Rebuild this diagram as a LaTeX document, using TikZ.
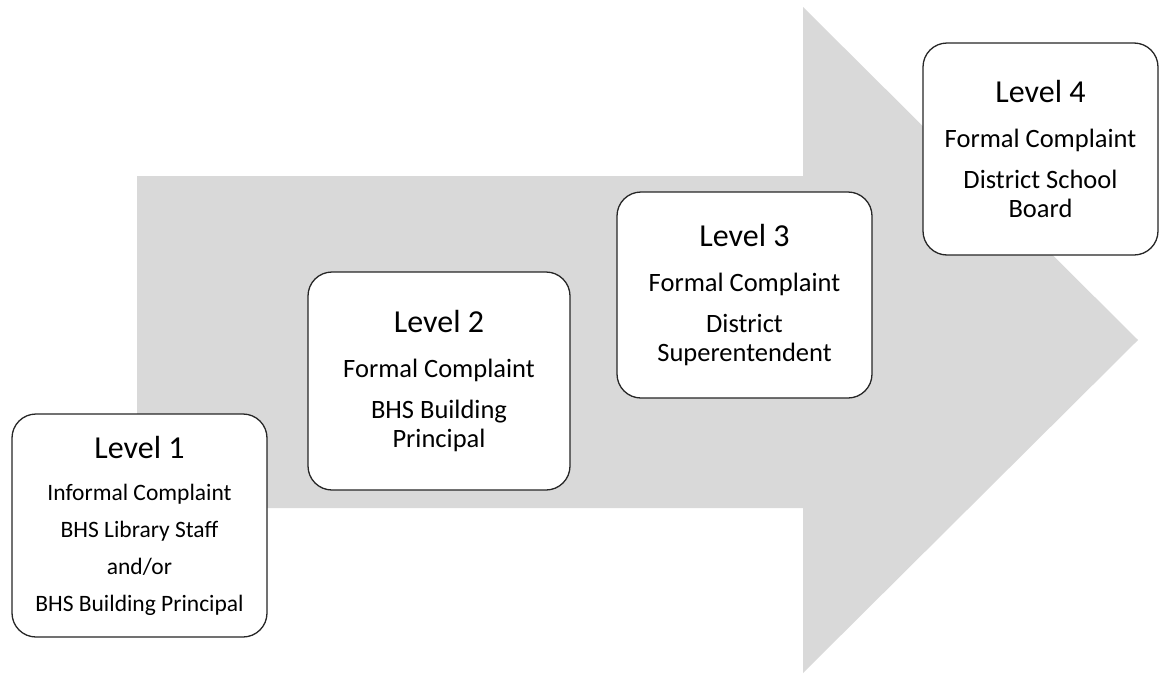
\documentclass[tikz,border=0pt]{standalone}
\usepackage{fontspec}
\setmainfont{Carlito}
\usepackage{tikz}
\usepackage{xcolor}
\usetikzlibrary{shapes,arrows.meta,positioning}
\definecolor{flow}{HTML}{D9D9D9}
\definecolor{rim}{HTML}{262626}
\newcommand{\lvltitle}[1]{{\fontsize{32}{32}\selectfont #1}}

\begin{document}
\begin{tikzpicture}[x=1pt,y=-1pt,
  lvl/.style={draw=rim,fill=white,line width=1.3pt,rounded corners=24pt,
    align=center,inner sep=0pt,font=\fontsize{26.5}{29}\selectfont}]
\useasboundingbox (0,0) rectangle (1159,675);
% big grey arrow behind the steps
\fill[flow] (137,176) -- (803,176) -- (803,7) -- (1138,340) -- (803,673) -- (803,508) -- (137,508) -- cycle;

\node[lvl,minimum width=255,minimum height=223,font=\fontsize{23.5}{28}\selectfont] (l1) at (139.5,525.5)
  {\lvltitle{Level 1}\\[14pt] Informal Complaint\\[9pt] BHS Library Staff\\[9pt] and/or\\[9pt] BHS Building Principal};
\node[lvl,minimum width=262,minimum height=218] (l2) at (439,381)
  {\lvltitle{Level 2}\\[16pt] Formal Complaint\\[12pt] BHS Building\\ Principal};
\node[lvl,minimum width=255,minimum height=206] (l3) at (744.5,295)
  {\lvltitle{Level 3}\\[16pt] Formal Complaint\\[12pt] District\\ Superentendent};
\node[lvl,minimum width=235,minimum height=212] (l4) at (1040.5,149)
  {\lvltitle{Level 4}\\[16pt] Formal Complaint\\[12pt] District School\\ Board};
\end{tikzpicture}
\end{document}
